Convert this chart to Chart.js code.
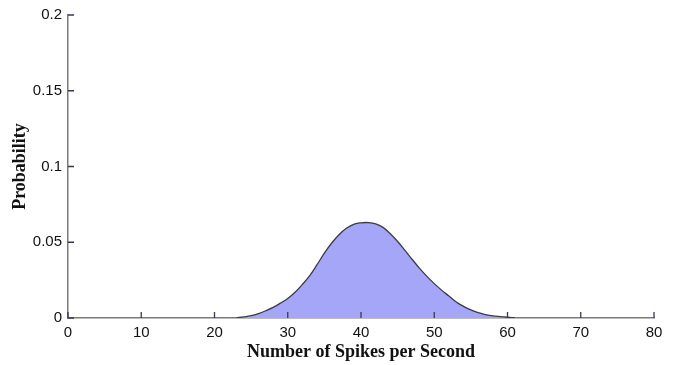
<!DOCTYPE html>
<html>
<head>
<meta charset="utf-8">
<script src="https://cdn.jsdelivr.net/npm/chart.js@4/dist/chart.umd.min.js"></script>
<style>
  html, body { margin: 0; padding: 0; background: #fff; }
  #wrap { width: 675px; height: 365px; }
</style>
</head>
<body>
<div id="wrap"><canvas id="spikeChart"></canvas></div>
<script>
// spike counts (per second) and probability
var spikes = [23, 24, 25, 26, 27, 28, 29, 30, 31, 32, 33, 34, 35, 36, 37, 38, 39, 40, 41, 42,
              43, 44, 45, 46, 47, 48, 49, 50, 51, 52, 53, 54, 55, 56, 57, 58, 59, 60, 61];
var probability = [0.0002, 0.0007, 0.0015, 0.0029, 0.0048, 0.0070, 0.0098, 0.0129, 0.0170, 0.0222,
                   0.0280, 0.0352, 0.0428, 0.0495, 0.0550, 0.0592, 0.0618, 0.0628, 0.0630, 0.0622,
                   0.0598, 0.0556, 0.0505, 0.0446, 0.0386, 0.0328, 0.0275, 0.0227, 0.0184, 0.0145,
                   0.0106, 0.0077, 0.0053, 0.0035, 0.0023, 0.0014, 0.0009, 0.0005, 0.0002];
var xTicks = [0, 10, 20, 30, 40, 50, 60, 70, 80];
var yTicks = [0, 0.05, 0.1, 0.15, 0.2];

var points = [];
spikes.forEach(function (s, i) {
    points.push({ x: s, y: probability[i] });
});

// small ticks pointing into the plot, like the original
var innerTicks = {
    id: 'innerTicks',
    afterDatasetsDraw: function (chart) {
        var ctx = chart.ctx;
        var xs = chart.scales.x, ys = chart.scales.y;
        ctx.save();
        ctx.strokeStyle = '#333a55';
        ctx.lineWidth = 1.3;
        ctx.beginPath();
        xTicks.forEach(function (v) {
            var px = xs.getPixelForValue(v);
            ctx.moveTo(px, ys.bottom);
            ctx.lineTo(px, ys.bottom - 6);
        });
        yTicks.forEach(function (v) {
            var py = ys.getPixelForValue(v);
            ctx.moveTo(xs.left, py);
            ctx.lineTo(xs.left + 6, py);
        });
        ctx.stroke();
        ctx.restore();
    }
};

var ctx = document.getElementById('spikeChart').getContext('2d');
var chart = new Chart(ctx, {
    type: 'line',
    data: {
        datasets: [{
            data: points,
            borderColor: '#3a3a4a',
            borderWidth: 1.3,
            backgroundColor: 'rgb(166,166,248)',
            fill: 'origin',
            tension: 0.4,
            pointRadius: 0
        }]
    },
    options: {
        responsive: true,
        maintainAspectRatio: false,
        animation: false,
        layout: { padding: { left: 0, right: 21, top: 13, bottom: 0 } },
        plugins: {
            legend: { display: false },
            tooltip: { enabled: false }
        },
        scales: {
            x: {
                type: 'linear',
                min: 0,
                max: 80,
                afterBuildTicks: function (s) { s.ticks = xTicks.map(function (v) { return { value: v }; }); },
                afterFit: function (s) { s.height = 47; },
                grid: { display: false, drawTicks: false },
                border: { display: true, color: '#7a7a7a', width: 1.5 },
                ticks: {
                    padding: 6,
                    color: '#111',
                    font: { family: 'Liberation Sans', size: 15 },
                    maxRotation: 0
                },
                title: {
                    display: true,
                    text: 'Number of Spikes per Second',
                    color: '#111',
                    font: { family: 'Liberation Serif', size: 18, weight: 'bold' },
                    padding: { top: 0, bottom: 2 }
                }
            },
            y: {
                min: 0,
                max: 0.2,
                afterBuildTicks: function (s) { s.ticks = yTicks.map(function (v) { return { value: v }; }); },
                afterFit: function (s) { s.width = 68; },
                grid: { display: false, drawTicks: false },
                border: { display: true, color: '#7a7a7a', width: 1.5 },
                ticks: {
                    padding: 6,
                    color: '#111',
                    font: { family: 'Liberation Sans', size: 15 },
                    callback: function (v) { return String(+v.toFixed(2)); }
                },
                title: {
                    display: true,
                    text: 'Probability',
                    color: '#111',
                    font: { family: 'Liberation Serif', size: 18, weight: 'bold' },
                    padding: { top: 10, bottom: 0 }
                }
            }
        }
    },
    plugins: [innerTicks]
});
</script>
</body>
</html>
